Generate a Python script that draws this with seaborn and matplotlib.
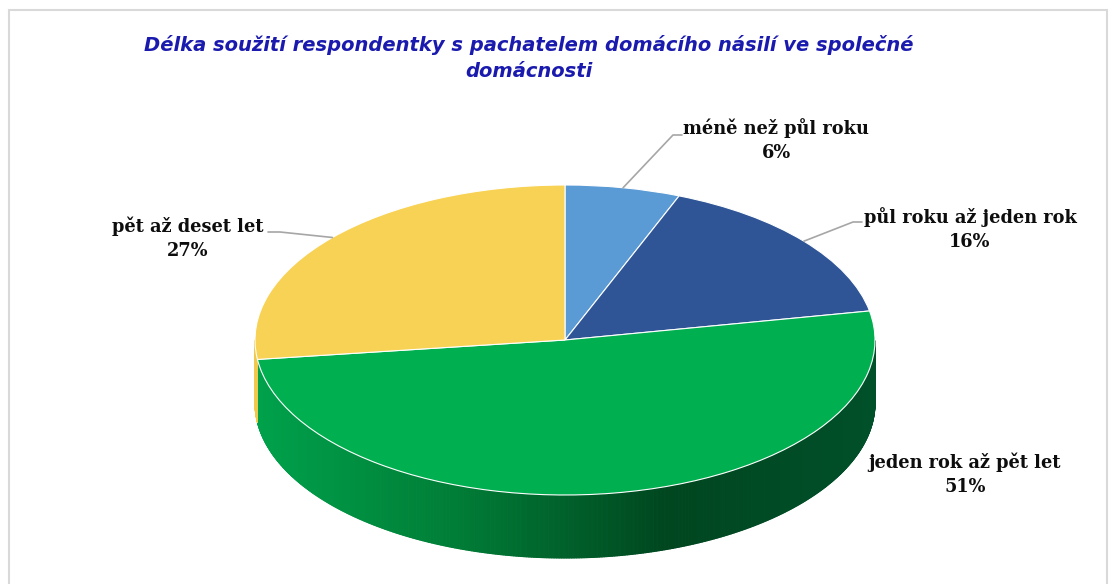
import numpy as np
import matplotlib
matplotlib.use('Agg')
import matplotlib.pyplot as plt
import seaborn as sb
from matplotlib.collections import PolyCollection
from matplotlib.colors import LinearSegmentedColormap
from matplotlib.patches import Rectangle

categories = ['méně než půl roku', 'půl roku až jeden rok', 'jeden rok až pět let', 'pět až deset let']
shares = [6, 16, 51, 27]
pct_labels = ['6%', '16%', '51%', '27%']
colors = ['#5B9BD5', '#2F5597', '#00B050', '#F8D254']
side_colors = {2: ['#00A24C', '#007C36', '#00461F', '#00502A'], 3: ['#F0C94C', '#F0C94C']}

sb.set_theme(style='white')
plt.rcParams['font.family'] = ['DejaVu Serif']

W, H = 1110, 584
fig = plt.figure(figsize=(W / 100, H / 100), dpi=100)
ax = fig.add_axes([0, 0, 1, 1])

# pixel -> data helper (pie centre at 565,340; radii 310 x 155 px)
CX, CY, RX, RY = 565, 340, 310, 155
def px(x, y):
    return ((x - CX) / RX, (CY - y) / RY)

depth = 63 / RY

wedges, _ = ax.pie(shares, colors=colors, startangle=90, counterclock=False,
                   wedgeprops=dict(edgecolor='white', linewidth=0.8))
for w in wedges:
    w.set_zorder(3)

# side walls of the 3D pie (front half only), with horizontal gradient
for i, w in enumerate(wedges):
    t = np.linspace(w.theta1, w.theta2, 600)
    t = t[np.sin(np.radians(t)) <= 0]
    if len(t) < 2:
        continue
    cmap = LinearSegmentedColormap.from_list('s', side_colors.get(i, [colors[i], colors[i]]))
    polys, cols = [], []
    for a, b in zip(t[:-1], t[1:]):
        xa, xb = np.cos(np.radians([a, b]))
        ya, yb = np.sin(np.radians([a, b]))
        polys.append([(xa, ya), (xb, yb), (xb, yb - depth), (xa, ya - depth)])
        cols.append(cmap((np.clip((xa + xb) / 2, -1, 1) + 1) / 2))
    ax.add_collection(PolyCollection(polys, facecolors=cols, edgecolors=cols, linewidths=0.8, zorder=2))

ax.set_aspect('auto')
ax.set_xlim(-CX / RX, (W - CX) / RX)
ax.set_ylim((CY - H) / RY, CY / RY)
ax.axis('off')

# labels
mids = [(w.theta1 + w.theta2) / 2 for w in wedges]
label_pos = [(776, 140), (970, 229), (965, 474), (188, 238)]
elbows = [[(673, 135), (682, 135)], [(853, 222), (862, 222)], None, [(280, 232), (268, 232)]]
for i in range(len(shares)):
    tx, ty = px(*label_pos[i])
    ax.text(tx, ty, categories[i] + '\n' + pct_labels[i], ha='center', va='center',
            fontsize=12.8, fontweight='bold', color='#0D0D0D', linespacing=1.4, zorder=5)
    if elbows[i] is not None:
        m = np.radians(mids[i])
        pts = [(np.cos(m), np.sin(m))] + [px(*p) for p in elbows[i]]
        ax.plot([p[0] for p in pts], [p[1] for p in pts], color='#A6A6A6', lw=1.2, zorder=4)

fig.text(529 / W, 1 - 58 / H,
         'Délka soužití respondentky s pachatelem domácího násilí ve společné\ndomácnosti',
         ha='center', va='center', fontsize=14, fontweight='bold', fontstyle='italic',
         color='#1A1AAE', family=['DejaVu Sans'], linespacing=1.45)

fig.patches.append(Rectangle((9 / W, -0.05), 1098 / W, 1.05 - 10 / H, transform=fig.transFigure,
                             fill=False, edgecolor='#D9D9D9', linewidth=1.5))

plt.savefig('out.png', dpi=100)
